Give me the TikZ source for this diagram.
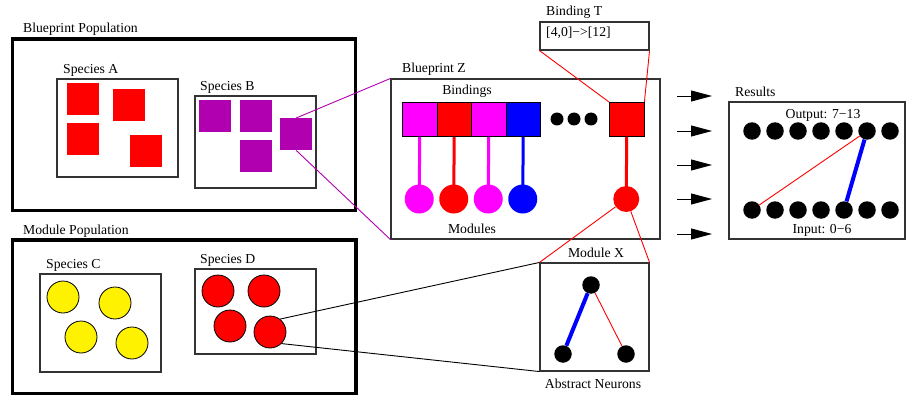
\documentclass[tikz,border=0pt]{standalone}
\usepackage{fontspec}
\setmainfont{Liberation Serif}
\usetikzlibrary{fit,arrows.meta}
\definecolor{purp}{HTML}{B000B0}
\definecolor{pmag}{HTML}{FF00FF}
\begin{document}
\begin{tikzpicture}[x=1pt,y=-1pt,
  font=\fontsize{13.7}{16}\selectfont,
  lbl/.style={inner sep=0, anchor=base west},
  clbl/.style={inner sep=0, anchor=base},
  popbox/.style={draw, line width=3.2pt, inner sep=0},
  framebox/.style={draw=black!80, line width=1.1pt, inner sep=0},
  redsq/.style={fill=red, minimum size=32pt, inner sep=0, anchor=north west},
  purpsq/.style={fill=purp, minimum size=32pt, inner sep=0, anchor=north west},
  bindsq/.style={draw, line width=0.9pt, minimum width=34.5pt, minimum height=34pt, inner sep=0, anchor=north west},
  modc/.style={circle, minimum size=29pt, inner sep=0},
  spc/.style={circle, draw, line width=0.8pt, minimum size=32pt, inner sep=0},
  dotc/.style={circle, fill=black, minimum size=17.5pt, inner sep=0},
  stem/.style={line width=3pt},
  thin/.style={line width=0.9pt},
  fat/.style={line width=4pt, blue},
  arr/.style={line width=0.9pt, -{Triangle[length=21pt,width=11pt]}}
]
\useasboundingbox (0,0) rectangle (906,396);

% ---------- Blueprint population ----------
\node[lbl] (bplbl) at (23,33) {Blueprint Population};
\node[popbox, fit={(12.5,39) (355.5,210.5)}] (bpop) {};

\node[lbl] (salbl) at (63,74) {Species A};
\node[framebox, fit={(57,79) (178,177)}] (spa) {};
\node[redsq] (a1) at (67,83) {};
\node[redsq] (a2) at (113,89) {};
\node[redsq] (a3) at (67,123) {};
\node[redsq] (a4) at (130,135) {};

\node[lbl] (sblbl) at (200,91) {Species B};
\node[framebox, fit={(195,96) (316,188)}] (spb) {};
\node[purpsq] (b1) at (199,100) {};
\node[purpsq] (b2) at (240,100) {};
\node[purpsq] (b3) at (280,118) {};
\node[purpsq] (b4) at (240,140) {};

% ---------- Module population ----------
\node[lbl] (mplbl) at (23,234) {Module Population};
\node[popbox, fit={(12.5,240) (356,393.5)}] (mpop) {};

\node[lbl] (sclbl) at (46,268) {Species C};
\node[framebox, fit={(40,274) (161,372)}] (spcbox) {};
\node[spc, fill=yellow] (c1) at (63,297) {};
\node[spc, fill=yellow] (c2) at (115,303) {};
\node[spc, fill=yellow] (c3) at (81,337) {};
\node[spc, fill=yellow] (c4) at (132,343) {};

\node[lbl] (sdlbl) at (200,263) {Species D};
\node[framebox, fit={(195,269) (316,354)}] (spd) {};
\node[spc, fill=red] (d1) at (218,291) {};
\node[spc, fill=red] (d2) at (264,291) {};
\node[spc, fill=red] (d3) at (230,326) {};
\node[spc, fill=red] (d4) at (270,332) {};

% ---------- Blueprint Z ----------
\node[lbl] (bzlbl) at (402,73) {Blueprint Z};
\node[framebox, fit={(391,79) (660,239)}] (bz) {};
\node[clbl] (bindlbl) at (467,95) {Bindings};
\node[clbl] (modlbl) at (472,233) {Modules};

\node[bindsq, fill=pmag] (s1) at (402,102) {};
\node[bindsq, fill=red] (s2) at (436.5,102) {};
\node[bindsq, fill=pmag] (s3) at (471,102) {};
\node[bindsq, fill=blue] (s4) at (505.5,102) {};
\node[bindsq, fill=red] (s5) at (609,102) {};

\node[circle, fill=black, minimum size=13pt, inner sep=0] (e1) at (557,119) {};
\node[circle, fill=black, minimum size=13pt, inner sep=0] (e2) at (574,119) {};
\node[circle, fill=black, minimum size=13pt, inner sep=0] (e3) at (591,119) {};

\node[modc, fill=pmag] (m1) at (419.25,199) {};
\node[modc, fill=red] (m2) at (453.75,199) {};
\node[modc, fill=pmag] (m3) at (488.25,199) {};
\node[modc, fill=blue] (m4) at (522.75,199) {};
\node[modc, fill=red, minimum size=26pt] (m5) at (626.25,199) {};

\draw[stem, pmag] (s1.south) -- (m1.center);
\draw[stem, red] (s2.south) -- (m2.center);
\draw[stem, pmag] (s3.south) -- (m3.center);
\draw[stem, blue] (s4.south) -- (m4.center);
\draw[stem, red] (s5.south) -- (m5.center);

% ---------- Binding T ----------
\node[lbl] (btlbl) at (546,16) {Binding T};
\node[framebox, fit={(540,22) (649,50)}] (bt) {};
\node[lbl] (bttxt) at (546,37) {[4,0]−>[12]};
\draw[thin, red] (bt.south west) -- (s5.north west);
\draw[thin, red] (bt.south east) -- (s5.north east);

% ---------- Module X ----------
\node[clbl] (mxlbl) at (596,257) {Module X};
\node[framebox, fit={(540,263) (649,371)}] (mx) {};
\node[clbl] (anlbl) at (593,388) {Abstract Neurons};
\node[dotc] (n1) at (591,285) {};
\node[dotc] (n2) at (563,354) {};
\node[dotc] (n3) at (626,354) {};
\draw[fat] (n1) -- (n2);
\draw[thin, red] (n1) -- (n3);
\draw[thin, red] (m5) -- (mx.north west);
\draw[thin, red] (m5) -- (mx.north east);

% zoom lines
\draw[thin, purp] (b3.north) -- (bz.north west);
\draw[thin, purp] (b3.south) -- (bz.south west);
\draw[thin] (d4.52) -- (mx.north west);
\draw[thin] (d4.-45) -- (mx.south west);

% ---------- Results ----------
\foreach \i/\y in {1/96,2/131,3/165,4/199,5/234}{
  \coordinate (as\i) at (677,\y);
  \coordinate (ae\i) at (712,\y);
  \draw[arr] (as\i) -- (ae\i);
}
\node[lbl] (reslbl) at (735,96) {Results};
\node[framebox, fit={(729,102) (905,239)}] (res) {};
\node[clbl] (outlbl) at (823,118) {Output: 7−13};
\node[clbl] (inlbl) at (822,233) {Input: 0−6};
\foreach \k in {0,...,6}{
  \node[dotc] (o\k) at (752+23*\k,131) {};
  \node[dotc] (i\k) at (752+23*\k,210) {};
}
\draw[thin, red] (i0) -- (o5);
\draw[fat] (i4) -- (o5);
\end{tikzpicture}
\end{document}
